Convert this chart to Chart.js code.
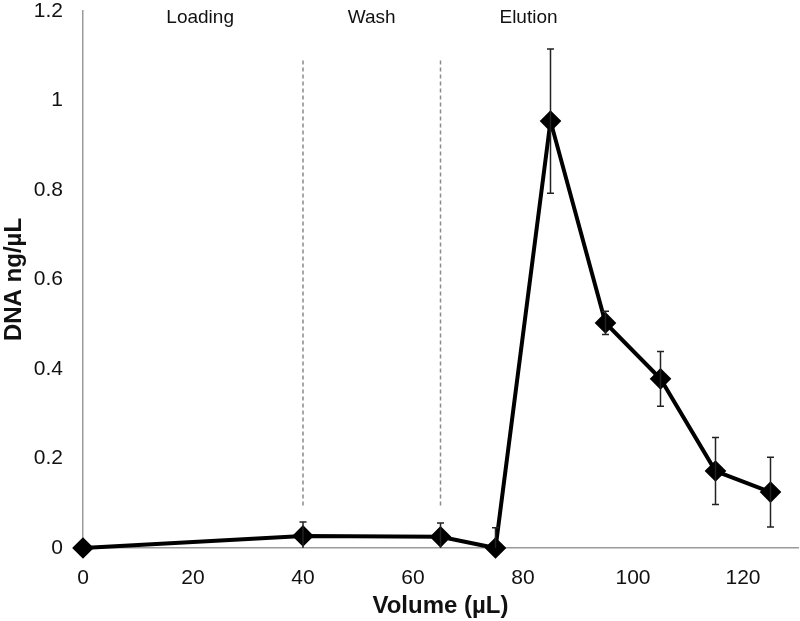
<!DOCTYPE html>
<html>
<head>
<meta charset="utf-8">
<script src="https://cdn.jsdelivr.net/npm/chart.js@4"></script>
<style>
  html, body { margin: 0; padding: 0; background: #fff; }
  #wrap { width: 800px; height: 621px; }
</style>
</head>
<body>
<div id="wrap"><canvas id="chart" width="800" height="621"></canvas></div>
<script>
// Data
const volumes = [0, 40, 65, 75, 85, 95, 105, 115, 125];
const dnaConc = [0, 0.027, 0.025, 0, 0.954, 0.503, 0.378, 0.172, 0.125];
const dnaErr  = [0, 0.031, 0.031, 0.045, 0.161, 0.026, 0.061, 0.075, 0.078];

const xTicks = [0, 20, 40, 60, 80, 100, 120];
const yTickLabels = ['0', '0.2', '0.4', '0.6', '0.8', '1', '1.2'];

// phase separators and labels
const dividers = [40, 65];
const dividerRange = [0.095, 1.095];
const phaseNames = ['Loading', 'Wash', 'Elution'];
const phaseX = [21.3, 52.5, 81];
const phaseY = 1.185;

const FONT = "'Liberation Sans', Arial, sans-serif";

// error bars + phase labels, drawn from the scales
const extras = {
  id: 'extras',
  afterDatasetsDraw(chart) {
    const ctx = chart.ctx;
    const xs = chart.scales.x, ys = chart.scales.y;
    const area = chart.chartArea;
    ctx.save();
    ctx.beginPath();
    ctx.rect(area.left, area.top - 2, area.right - area.left, area.bottom - area.top + 2);
    ctx.clip();
    ctx.strokeStyle = '#222';
    ctx.lineWidth = 1.5;
    volumes.forEach(function(v, i) {
      if (!dnaErr[i]) return;
      const px = xs.getPixelForValue(v);
      const top = ys.getPixelForValue(dnaConc[i] + dnaErr[i]);
      const bot = ys.getPixelForValue(dnaConc[i] - dnaErr[i]);
      ctx.beginPath();
      ctx.moveTo(px, top); ctx.lineTo(px, bot);
      ctx.moveTo(px - 3.5, top); ctx.lineTo(px + 3.5, top);
      ctx.moveTo(px - 3.5, bot); ctx.lineTo(px + 3.5, bot);
      ctx.stroke();
    });
    ctx.restore();

    ctx.save();
    ctx.fillStyle = '#111';
    ctx.font = '19px ' + FONT;
    ctx.textAlign = 'center';
    ctx.textBaseline = 'middle';
    phaseNames.forEach(function(name, i) {
      ctx.fillText(name, xs.getPixelForValue(phaseX[i]), ys.getPixelForValue(phaseY));
    });
    ctx.restore();
  }
};

const dividerSets = dividers.map(function(d) {
  return {
    type: 'line',
    data: [{x: d, y: dividerRange[0]}, {x: d, y: dividerRange[1]}],
    borderColor: '#8a8a8a',
    borderWidth: 1.5,
    borderDash: [4, 3],
    pointRadius: 0,
    order: 2
  };
});

new Chart(document.getElementById('chart'), {
  type: 'line',
  data: {
    datasets: dividerSets.concat([{
      data: volumes.map(function(v, i) { return {x: v, y: dnaConc[i]}; }),
      borderColor: '#000',
      borderWidth: 4,
      tension: 0,
      pointStyle: 'rectRot',
      pointRadius: 8,
      pointBackgroundColor: '#000',
      pointBorderColor: '#000',
      clip: false,
      order: 1
    }])
  },
  options: {
    responsive: false,
    animation: false,
    layout: { autoPadding: false, padding: { top: 11, right: 2, left: 0, bottom: 0 } },
    plugins: { legend: { display: false }, tooltip: { enabled: false } },
    scales: {
      x: {
        type: 'linear',
        min: 0,
        max: 130,
        grid: { display: false, drawTicks: false },
        border: { display: true, color: '#9a9a9a', width: 1.5 },
        afterBuildTicks: function(axis) {
          axis.ticks = xTicks.map(function(v) { return {value: v}; });
        },
        afterFit: function(axis) { axis.height = 73; },
        ticks: {
          padding: 18,
          color: '#111',
          font: { family: FONT, size: 21 },
          maxRotation: 0
        },
        title: {
          display: true,
          text: 'Volume (µL)',
          color: '#111',
          font: { family: FONT, size: 24, weight: 'bold' },
          padding: { top: 0, bottom: 0 }
        }
      },
      y: {
        min: 0,
        max: 1.2,
        grid: { display: false, drawTicks: false },
        border: { display: true, color: '#9a9a9a', width: 1.5 },
        afterFit: function(axis) {
          axis.width = 83;
          axis.paddingTop = 0;
          axis.paddingBottom = 0;
        },
        ticks: {
          stepSize: 0.2,
          padding: 20,
          color: '#111',
          font: { family: FONT, size: 21 },
          callback: function(value) { return yTickLabels[Math.round(value / 0.2)]; }
        },
        title: {
          display: true,
          text: 'DNA ng/µL',
          color: '#111',
          font: { family: FONT, size: 24, weight: 'bold' },
          padding: { top: 0, bottom: 0 }
        }
      }
    }
  },
  plugins: [extras]
});
</script>
</body>
</html>
